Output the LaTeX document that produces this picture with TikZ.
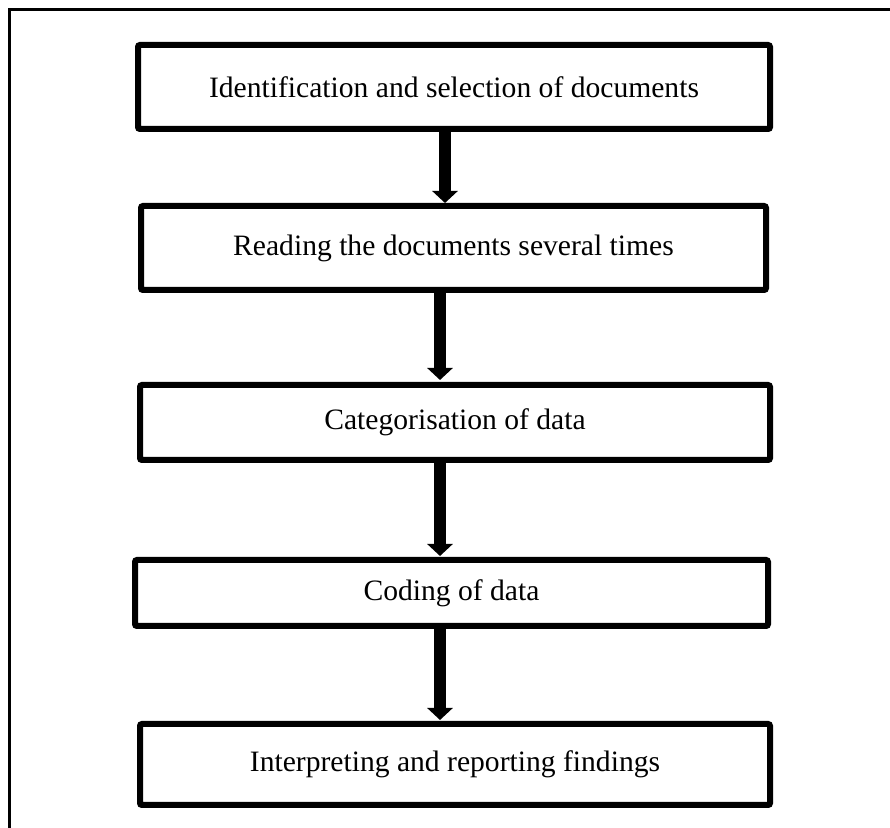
\documentclass[tikz,border=0pt]{standalone}
\usepackage{fontspec}
\setmainfont{Liberation Serif}
\usetikzlibrary{arrows.meta}
\begin{document}
\begin{tikzpicture}[x=0.5pt,y=-0.5pt,
  stepbox/.style={draw,line width=3pt,rounded corners=1pt,inner sep=0pt,
    font=\fontsize{14.8}{17}\selectfont,align=center},
  bigarrow/.style={line width=6pt,-{Triangle[width=12.5pt,length=6pt]}},
  frameline/.style={line width=1.2pt}]
\useasboundingbox (0,0) rectangle (890,828);
\coordinate (ftr) at (890,9.5);
\coordinate (fbl) at (9.5,828);
\draw[frameline] (ftr) -- (9.5,9.5) -- (fbl);
\node[stepbox,minimum width=316pt,minimum height=42pt] (b1) at (454,87) {Identification and selection of documents};
\node[stepbox,minimum width=312.5pt,minimum height=42pt] (b2) at (453.5,248) {Reading the documents several times};
\node[stepbox,minimum width=315pt,minimum height=37.5pt] (b3) at (455,422.5) {Categorisation of data};
\node[stepbox,minimum width=316.5pt,minimum height=33pt] (b4) at (451.5,593) {Coding of data};
\node[stepbox,minimum width=315pt,minimum height=40.5pt] (b5) at (455,764.5) {Interpreting and reporting findings};
\coordinate (a1s) at (445,132);
\coordinate (a1e) at (445,203);
\coordinate (a2s) at (440,293);
\coordinate (a2e) at (440,380);
\coordinate (a3s) at (440,463);
\coordinate (a3e) at (440,556);
\coordinate (a4s) at (440,629);
\coordinate (a4e) at (440,720);
\draw[bigarrow] (a1s) -- (a1e);
\draw[bigarrow] (a2s) -- (a2e);
\draw[bigarrow] (a3s) -- (a3e);
\draw[bigarrow] (a4s) -- (a4e);
\end{tikzpicture}
\end{document}
